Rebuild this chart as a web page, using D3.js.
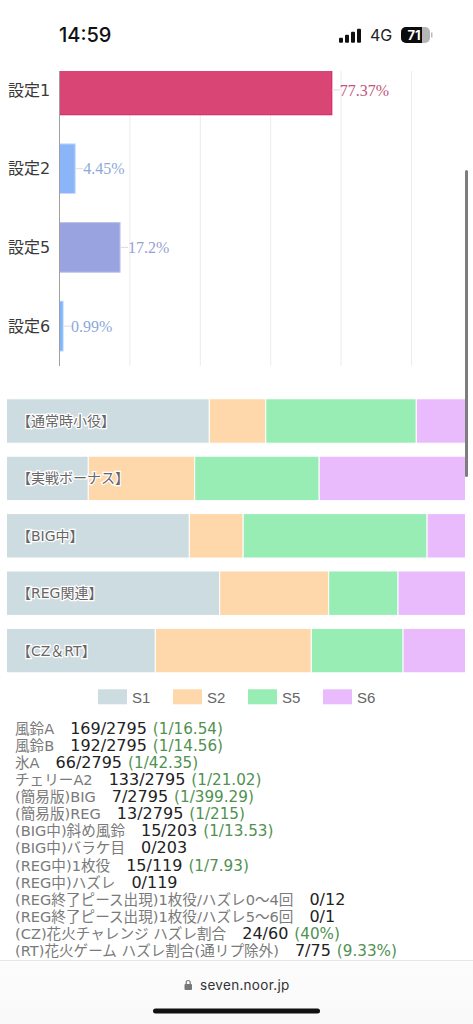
<!DOCTYPE html>
<html><head><meta charset="utf-8">
<script src="https://d3js.org/d3.v7.min.js"></script>
<style>html,body{margin:0;padding:0;background:#fff;overflow:hidden}svg{display:block}</style>
</head><body><svg id="c" width="473" height="1024"></svg>
<script>
const settings=["設定1","設定2","設定5","設定6"];
const settingValues=[77.37,4.45,17.2,0.99];
const settingLabels=["77.37%","4.45%","17.2%","0.99%"];
const settingFills=["#d94575","#8ab6f9","#98a3e0","#7fb5fb"];
const settingStrokes=["#d81b60","#c5dafc","#b9c1ea","#a9cdfd"];
const settingText=["#c2557c","#8ea8d8","#98a0d4","#8ea8d8"];
const gridTicks=[20,40,60,80,100];
const stackCats=["【通常時小役】","【実戦ボーナス】","【BIG中】","【REG関連】","【CZ＆RT】"];
const stackKeys=["S1","S2","S5","S6"];
const s1=[44.18,17.82,39.83,46.45,32.42];
const s2=[12.31,23.18,11.73,23.75,33.98];
const s5=[32.79,27.12,40.07,15.1,20.0];
const s6=[10.72,31.88,8.37,14.7,13.6];
const stackColors=["#cddce1","#fed7aa","#97edb3","#e9bbfd"];
const statNames=["風鈴A","風鈴B","氷A","チェリーA2","(簡易版)BIG","(簡易版)REG","(BIG中)斜め風鈴","(BIG中)バラケ目","(REG中)1枚役","(REG中)ハズレ","(REG終了ピース出現)1枚役/ハズレ0～4回","(REG終了ピース出現)1枚役/ハズレ5～6回","(CZ)花火チャレンジ ハズレ割合","(RT)花火ゲーム ハズレ割合(通リプ除外)"];
const statCounts=["169/2795","192/2795","66/2795","133/2795","7/2795","13/2795","15/203","0/203","15/119","0/119","0/12","0/1","24/60","7/75"];
const statRates=["(1/16.54)","(1/14.56)","(1/42.35)","(1/21.02)","(1/399.29)","(1/215)","(1/13.53)","","(1/7.93)","","","","(40%)","(9.33%)"];

const jp='"DejaVu Sans","Noto Sans CJK JP",sans-serif';
const svg=d3.select("#c");

// Top horizontal bar chart
const x=d3.scaleLinear().domain([0,100]).range([59.5,411.5]);
const y=d3.scaleBand().domain(settings).range([50.6,365.5]).paddingInner(0.37).paddingOuter(0.185);
svg.append("clipPath").attr("id","clipTop").append("rect").attr("x",0).attr("y",71).attr("width",473).attr("height",300);
const chartTop=svg.append("g").attr("clip-path","url(#clipTop)");
chartTop.selectAll("line.grid").data(gridTicks).join("line").attr("class","grid")
 .attr("x1",d=>x(d)).attr("x2",d=>x(d)).attr("y1",50).attr("y2",366).attr("stroke","#ececec").attr("stroke-width",1);
chartTop.selectAll("rect.bar").data(settings).join("rect").attr("class","bar")
 .attr("x",x(0)).attr("y",d=>y(d)).attr("height",y.bandwidth())
 .attr("width",(d,i)=>x(settingValues[i])-x(0))
 .attr("fill",(d,i)=>settingFills[i]).attr("stroke",(d,i)=>settingStrokes[i]).attr("stroke-width",1);
chartTop.append("line").attr("x1",x(0)).attr("x2",x(0)).attr("y1",50).attr("y2",366).attr("stroke","#a0a0a0").attr("stroke-width",1);
chartTop.selectAll("line.lead").data(settings).join("line").attr("class","lead")
 .attr("x1",(d,i)=>x(settingValues[i])).attr("x2",(d,i)=>x(settingValues[i])+8)
 .attr("y1",d=>y(d)+y.bandwidth()/2).attr("y2",d=>y(d)+y.bandwidth()/2)
 .attr("stroke","#dcdcdc");
chartTop.selectAll("text.val").data(settings).join("text").attr("class","val")
 .attr("x",(d,i)=>x(settingValues[i])+8).attr("y",d=>y(d)+y.bandwidth()/2)
 .attr("dy","0.35em").attr("font-family",'"Liberation Serif",serif').attr("font-size",16)
 .attr("fill",(d,i)=>settingText[i]).text((d,i)=>settingLabels[i]);
svg.selectAll("text.cat").data(settings).join("text").attr("class","cat")
 .attr("x",8).attr("y",d=>y(d)+y.bandwidth()/2).attr("dy","0.35em")
 .attr("font-family",jp).attr("font-size",16).attr("fill","#3a3a3a").text(d=>d);

// Stacked bars
const sx=d3.scaleLinear().domain([0,100]).range([6.5,465.5]);
const sy=d3.scaleBand().domain(stackCats).range([392.3,679.3]).paddingInner(0.226).paddingOuter(0.113);
const rows=stackCats.map((c,i)=>({cat:c,S1:s1[i],S2:s2[i],S5:s5[i],S6:s6[i]}));
const series=d3.stack().keys(stackKeys)(rows);
svg.selectAll("g.ser").data(series).join("g").attr("class","ser").attr("fill",(d,i)=>stackColors[i])
 .selectAll("rect").data(d=>d).join("rect")
 .attr("x",d=>sx(d[0])).attr("width",d=>sx(d[1])-sx(d[0]))
 .attr("y",d=>sy(d.data.cat)).attr("height",sy.bandwidth())
 .attr("stroke","#fff").attr("stroke-width",1);
svg.selectAll("text.sc").data(stackCats).join("text").attr("class","sc")
 .attr("x",17).attr("y",d=>sy(d)+sy.bandwidth()/2).attr("dy","0.35em")
 .attr("font-family",jp).attr("font-size",14).attr("fill","#666")
 .attr("stroke","#fff").attr("stroke-width",2.5).attr("paint-order","stroke").text(d=>d);

// Legend
const lg=d3.scaleBand().domain(stackKeys).range([98,398]);
const leg=svg.selectAll("g.leg").data(stackKeys).join("g").attr("class","leg")
 .attr("transform",d=>`translate(${lg(d)},689.3)`);
leg.append("rect").attr("width",29).attr("height",15).attr("fill",(d,i)=>stackColors[i]);
leg.append("text").attr("x",34).attr("y",8).attr("dy","0.35em").attr("font-family",'"Liberation Sans",sans-serif')
 .attr("font-size",15).attr("fill","#666").text(d=>d);

// Stats
const sty=d3.scaleBand().domain(statNames).range([720.5,959.2]);
const st=svg.selectAll("text.st").data(statNames).join("text").attr("class","st")
 .attr("x",15).attr("y",d=>sty(d)+sty.bandwidth()/2).attr("dy","0.35em")
 .attr("font-family",jp).attr("font-size",14.6);
st.append("tspan").attr("fill","#7a7a7a").text(d=>d);
st.append("tspan").attr("dx",16).attr("font-size",16).attr("fill","#222").text((d,i)=>statCounts[i]);
st.append("tspan").attr("dx",6).attr("font-size",15.2).attr("fill","#4f9250").text((d,i)=>statRates[i]);

// Scrollbar
svg.append("rect").attr("x",465).attr("y",170).attr("width",3).attr("height",307).attr("rx",1.5).attr("fill","#7d7d7d");

// Status bar
svg.append("text").attr("x",59).attr("y",42).attr("font-family",'Inter,"Liberation Sans",sans-serif').attr("font-size",20).attr("font-weight",500).attr("fill","#111").text("14:59");
const sigH=[5,8,11,14];
svg.selectAll("rect.sig").data(sigH).join("rect").attr("class","sig")
 .attr("x",(d,i)=>339+i*6).attr("y",d=>42.7-d).attr("width",4).attr("height",d=>d).attr("rx",1).attr("fill","#111");
svg.append("text").attr("x",370).attr("y",41).attr("font-family",'Inter,sans-serif').attr("font-size",16).attr("fill","#222").text("4G");
svg.append("rect").attr("x",401).attr("y",27).attr("width",29).attr("height",16).attr("rx",5).attr("fill","#b5b5b5");
svg.append("path").attr("d","M406 27h16v16h-16a5 5 0 0 1-5-5v-6a5 5 0 0 1 5-5z").attr("fill","#0c0c0c");
svg.append("rect").attr("x",431).attr("y",32.5).attr("width",1.5).attr("height",5).attr("fill","#bbb");
svg.append("text").attr("x",414).attr("y",39.7).attr("text-anchor","middle").attr("font-family",'Inter,sans-serif').attr("font-weight",700).attr("font-size",13).attr("fill","#fff").text("71");

// Browser bar
const g=svg.append("defs").append("linearGradient").attr("id","bb").attr("x1",0).attr("x2",0).attr("y1",0).attr("y2",1);
g.append("stop").attr("offset",0).attr("stop-color","#fcfcfc");
g.append("stop").attr("offset",1).attr("stop-color","#f9f9f9");
svg.append("rect").attr("x",0).attr("y",961).attr("width",473).attr("height",63).attr("fill","url(#bb)");
svg.append("line").attr("x1",0).attr("x2",473).attr("y1",960.5).attr("y2",960.5).attr("stroke","#e6e6e6");
svg.append("rect").attr("x",184.5).attr("y",984).attr("width",7.5).attr("height",6).attr("rx",1).attr("fill","#777");
svg.append("path").attr("d","M186.2 984v-1.5a2 2 0 0 1 4 0v1.5").attr("fill","none").attr("stroke","#777").attr("stroke-width",1.2);
svg.append("text").attr("x",200).attr("y",990).attr("font-family",'Inter,sans-serif').attr("font-size",13.5).attr("letter-spacing",0.3).attr("fill","#333").text("seven.noor.jp");
svg.append("rect").attr("x",153).attr("y",1008.5).attr("width",167).attr("height",5).attr("rx",2.5).attr("fill","#111");
</script></body></html>
